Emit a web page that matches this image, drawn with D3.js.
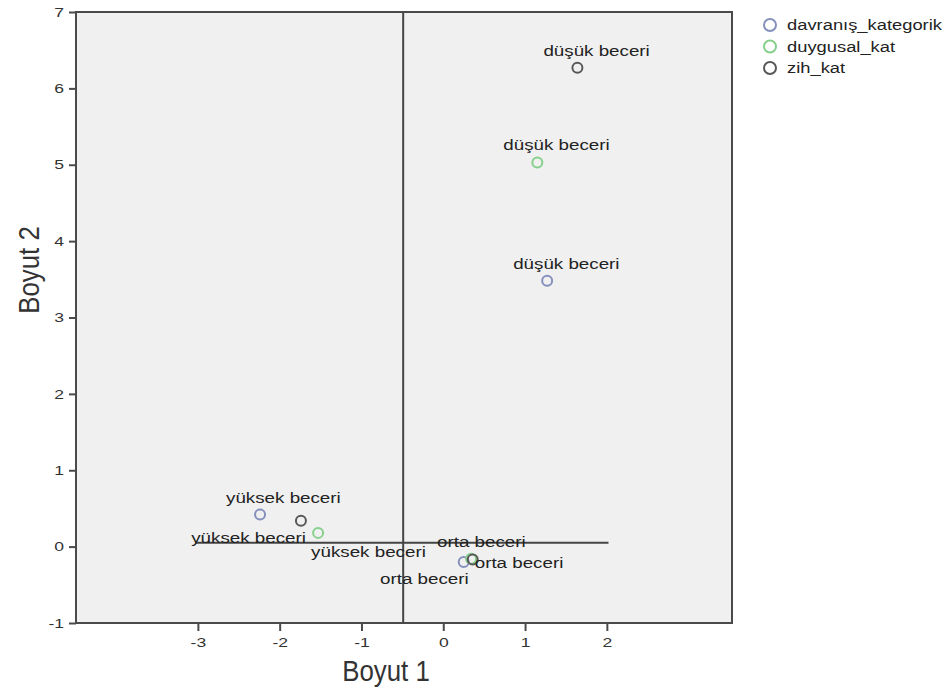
<!DOCTYPE html>
<html>
<head>
<meta charset="utf-8">
<script src="https://cdn.jsdelivr.net/npm/d3@7"></script>
<style>
  body { margin: 0; background: #fff; }
  text { font-family: "Liberation Sans", Arial, sans-serif; }
</style>
</head>
<body>
<svg id="chart" width="947" height="696"></svg>
<script>
// data
const series = ["davranış_kategorik", "duygusal_kat", "zih_kat"];
const categories = ["düşük beceri", "orta beceri", "yüksek beceri"];

const davranisDim1 = [1.27, 0.25, -2.24];
const davranisDim2 = [3.48, -0.20, 0.42];
const duygusalDim1 = [1.15, 0.34, -1.53];
const duygusalDim2 = [5.03, -0.16, 0.18];
const zihDim1 = [1.64, 0.36, -1.74];
const zihDim2 = [6.27, -0.17, 0.34];

// where each label sits relative to its point
const davranisLabelPos = ["above", "belowLeft", "above"];
const duygusalLabelPos = ["above", "above", "belowRight"];
const zihLabelPos = ["above", "right", "belowLeft"];

const xTicks = [-3, -2, -1, 0, 1, 2];
const yTicks = [-1, 0, 1, 2, 3, 4, 5, 6, 7];

// reference lines
const refLineX = -0.49;
const refLineY = 0.05;
const refLineYFrom = -3.03;
const refLineYTo = 2.02;

const colors = ["#8590bd", "#86cf8c", "#585858"];

const svg = d3.select("#chart");
const plot = { left: 76, top: 12, right: 732, bottom: 623 };

const x = d3.scaleLinear()
  .domain([-4.49, 3.53])
  .range([plot.left, plot.right]);

const y = d3.scaleLinear()
  .domain([-1, 7])
  .range([plot.bottom, plot.top]);

// widen / narrow text like the stretched original
function stretch(sel, k) {
  sel.each(function() {
    const w = this.getComputedTextLength();
    d3.select(this).attr("textLength", w * k).attr("lengthAdjust", "spacingAndGlyphs");
  });
}

// plot background
svg.append("rect")
  .attr("x", plot.left)
  .attr("y", plot.top)
  .attr("width", plot.right - plot.left)
  .attr("height", plot.bottom - plot.top)
  .attr("fill", "#f0f0f0")
  .attr("stroke", "#4a4a4a")
  .attr("stroke-width", 2);

// axes (plain hyphen for negatives, as in the original)
const xAxis = svg.append("g")
  .attr("transform", `translate(0,${plot.bottom})`)
  .call(d3.axisBottom(x).tickValues(xTicks).tickFormat(d => String(d)).tickSize(8).tickPadding(7));

const yAxis = svg.append("g")
  .attr("transform", `translate(${plot.left},0)`)
  .call(d3.axisLeft(y).tickValues(yTicks).tickFormat(d => String(d)).tickSize(7).tickPadding(5));

[xAxis, yAxis].forEach(a => {
  a.select(".domain").remove();
  a.selectAll(".tick line").attr("stroke", "#4a4a4a").attr("stroke-width", 2);
  a.selectAll(".tick text")
    .attr("fill", "#333")
    .style("font-size", "13px")
    .style("font-family", "'Liberation Sans', Arial, sans-serif");
  stretch(a.selectAll(".tick text"), 1.35);
});

// reference lines
svg.append("line")
  .attr("x1", x(refLineX)).attr("x2", x(refLineX))
  .attr("y1", plot.top).attr("y2", plot.bottom)
  .attr("stroke", "#454545")
  .attr("stroke-width", 2);

svg.append("line")
  .attr("x1", x(refLineYFrom)).attr("x2", x(refLineYTo))
  .attr("y1", y(refLineY)).attr("y2", y(refLineY))
  .attr("stroke", "#454545")
  .attr("stroke-width", 2);

// points
const points = [];
[[davranisDim1, davranisDim2, davranisLabelPos],
 [duygusalDim1, duygusalDim2, duygusalLabelPos],
 [zihDim1, zihDim2, zihLabelPos]].forEach((s, si) => {
  categories.forEach((c, ci) => {
    points.push({ series: si, label: c, d1: s[0][ci], d2: s[1][ci], pos: s[2][ci] });
  });
});

svg.append("g")
  .selectAll("circle")
  .data(points)
  .join("circle")
  .attr("cx", d => x(d.d1))
  .attr("cy", d => y(d.d2))
  .attr("r", 5)
  .attr("fill", "none")
  .attr("stroke", d => colors[d.series])
  .attr("stroke-width", 2);

const placement = {
  above: { dx: -34, dy: -12, anchor: "start" },
  belowLeft: { dx: 5, dy: 22, anchor: "end" },
  belowRight: { dx: -7, dy: 24, anchor: "start" },
  right: { dx: 2, dy: 8, anchor: "start" }
};

const labels = svg.append("g")
  .selectAll("text")
  .data(points)
  .join("text")
  .attr("x", d => x(d.d1) + placement[d.pos].dx)
  .attr("y", d => y(d.d2) + placement[d.pos].dy)
  .attr("text-anchor", d => placement[d.pos].anchor)
  .attr("fill", "#222")
  .style("font-size", "14px")
  .text(d => d.label);
stretch(labels, 1.34);

// axis titles
const xTitle = svg.append("text")
  .attr("x", 386)
  .attr("y", 681)
  .attr("text-anchor", "middle")
  .attr("fill", "#333")
  .style("font-size", "30px")
  .text("Boyut 1");
stretch(xTitle, 0.86);

const yTitle = svg.append("text")
  .attr("transform", "translate(39,270) rotate(-90)")
  .attr("text-anchor", "middle")
  .attr("fill", "#333")
  .style("font-size", "30px")
  .text("Boyut 2");
stretch(yTitle, 0.86);

// legend
const legend = svg.append("g")
  .attr("transform", "translate(770,25)");

const legendItems = legend.selectAll("g")
  .data(series)
  .join("g")
  .attr("transform", (d, i) => `translate(0,${i * 21.5})`);

legendItems.append("circle")
  .attr("r", 6)
  .attr("fill", "none")
  .attr("stroke", (d, i) => colors[i])
  .attr("stroke-width", 2);

const legendText = legendItems.append("text")
  .attr("x", 17)
  .attr("y", 5)
  .attr("fill", "#222")
  .style("font-size", "14px")
  .text(d => d);
stretch(legendText, 1.31);
</script>
</body>
</html>
